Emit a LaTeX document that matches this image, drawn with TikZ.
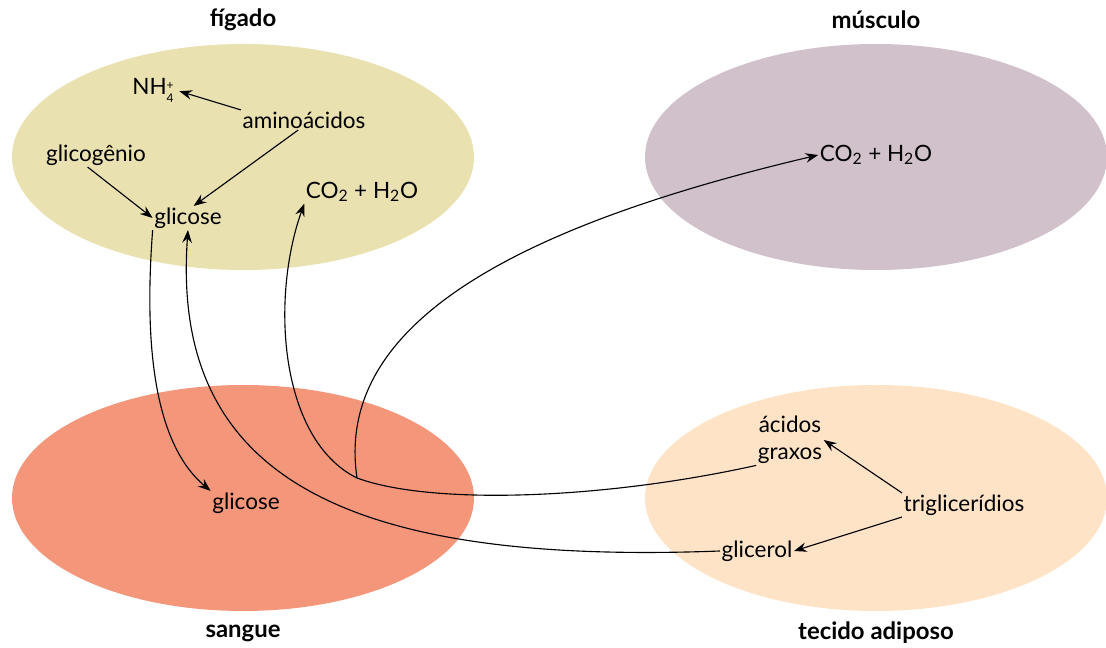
\documentclass[tikz,border=0pt]{standalone}
\usepackage{fontspec}
\setmainfont{Lato}
\usetikzlibrary{arrows.meta}
\definecolor{figcol}{HTML}{E9E1B0}
\definecolor{muscol}{HTML}{D1C1CB}
\definecolor{sancol}{HTML}{F4967A}
\definecolor{adicol}{HTML}{FEE3C7}
\newcommand{\ionstack}[2]{\raisebox{-0.7ex}{\fontsize{8.5}{8.5}\selectfont\shortstack[l]{#1\\#2}}}
\begin{document}
\begin{tikzpicture}[x=0.025cm, y=-0.025cm,
    every node/.style={font=\fontsize{16}{19}\selectfont, inner sep=1pt},
    title/.style={font=\fontsize{17}{20}\selectfont\bfseries},
    tip/.style={-{Stealth[length=3.2mm, width=2.4mm, inset=1.1mm]}, line width=0.8pt},
    wire/.style={line width=0.8pt}]
    \useasboundingbox (0,0) rectangle (1106,648);
    % organs
    \fill[figcol] (243,157) ellipse [x radius=231, y radius=113];
    \fill[muscol] (876,157) ellipse [x radius=231, y radius=113];
    \fill[sancol] (243,498) ellipse [x radius=231, y radius=113];
    \fill[adicol] (876,498) ellipse [x radius=231, y radius=113];
    \node[title] (fig) at (243,20) {fígado};
    \node[title] (mus) at (876,20) {músculo};
    \node[title] (san) at (243,633) {sangue};
    \node[title] (adi) at (876,633) {tecido adiposo};
    % substances
    \node (nh4) at (153,90) {NH\ionstack{+}{4}};
    \node (amino) at (304,120) {aminoácidos};
    \node (glicog) at (96,155) {glicogênio};
    \node (glicF) at (188,218) {glicose};
    \node (co2F) at (362,192) {CO\textsubscript{2} + H\textsubscript{2}O};
    \node (co2M) at (876,155) {CO\textsubscript{2} + H\textsubscript{2}O};
    \node (glicS) at (246,503) {glicose};
    \node[align=center] (graxos) at (790,440) {ácidos\\graxos};
    \node (trig) at (964,505) {triglicerídios};
    \node (glicerol) at (757,551) {glicerol};
    \coordinate (jct) at (357,478);
    % reactions
    \draw[tip, shorten >=3pt] (amino.north west) -- (nh4.east);
    \draw[tip] (amino.240) -- (glicF.65);
    \draw[tip] (glicog.235) -- (glicF.west);
    \draw[tip] (trig.north west) -- (graxos.east);
    \draw[tip] (trig.south west) -- (glicerol.east);
    \draw[tip] (glicF.south west) .. controls (145,330) and (150,440) .. (glicS.north west);
    \draw[tip] (glicerol.west) .. controls (350,565) and (170,480) .. (glicF.south);
    \draw[wire] (graxos.south west) .. controls (600,500) and (430,505) .. (jct);
    \draw[tip] (jct) .. controls (280,440) and (270,300) .. (co2F.south west);
    \draw[tip] (jct) .. controls (335,330) and (500,230) .. (co2M.west);
\end{tikzpicture}
\end{document}
